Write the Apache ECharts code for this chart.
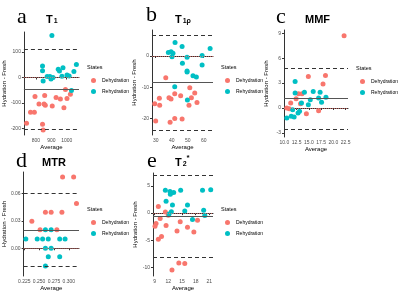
<!DOCTYPE html>
<html>
<head>
<meta charset="utf-8">
<script src="https://cdn.jsdelivr.net/npm/echarts@6/dist/echarts.min.js"></script>
<style>
  html, body { margin: 0; padding: 0; background: #fff; }
  #chart { width: 400px; height: 292px; }
</style>
</head>
<body>
<div id="chart"></div>
<script>
  // T1
  const t1Dehyd = [[739, -179], [765, -136], [790, -136], [794, -74], [820, -104], [843, -183], [847, -205], [853, -104], [857, -70], [861, -109], [906, -112], [931, -78], [959, -84], [982, -118], [992, -47], [1002, -82], [1024, -66]]
  const t1Rehyd = [[904, 164], [843, 45], [843, 26], [847, -14], [873, 4], [891, 4], [898, -6], [911, 0], [945, 32], [953, 25], [976, 38], [969, 5], [1002, 10], [1016, 6], [1031, -51], [1047, 23], [1063, 51]]
  const t1Limits = [112, -45, -201] // upper, mean, lower
  const t1XTicks = [800, 900, 1000]
  const t1YTicks = [100, 0, -100, -200]

  // T1rho
  const t1pDehyd = [[36.3, -6.9], [29.4, -15.2], [32.3, -13.5], [32.5, -15.7], [30.0, -20.7], [38.3, -13.3], [39.6, -13.7], [41.9, -12.0], [39.0, -21.1], [41.9, -19.9], [45.6, -12.7], [46.5, -20.1], [51.3, -10.1], [52.3, -13.3], [50.8, -15.7], [54.4, -11.8], [55.8, -14.8]]
  const t1pRehyd = [[42.1, 4.3], [37.9, 1.1], [39.6, 1.4], [40.8, 0.9], [40.2, -0.2], [46.5, 3.0], [49.6, -0.4], [46.7, -2.3], [49.6, -4.8], [49.6, -5.1], [53.3, -6.3], [55.4, -6.7], [59.0, 0.2], [59.0, -2.9], [64.0, 2.4], [41.9, -9.8], [49.8, -14.0]]
  const t1pLimits = [6.7, -8.3, -23.6]
  const t1pXTicks = [30, 40, 50, 60]
  const t1pYTicks = [0, -10, -20]

  // MMF
  const mmfDehyd = [[22.2, 8.7], [10.5, 0], [11.0, -0.1], [11.3, 0.6], [12.4, 1.1], [12.9, 1.7], [13.6, 1.7], [13.3, 0.5], [14.9, 3.8], [14.5, -0.7], [17.0, -0.35], [17.9, 2.9], [18.4, 3.9]]
  const mmfRehyd = [[10.5, -1.2], [11.4, -1.0], [11.7, -0.2], [12.0, -1.1], [12.2, 3.2], [12.2, 1.8], [12.8, -0.6], [13.1, -0.4], [13.5, 0.6], [14.1, 1.9], [14.9, 0.4], [15.3, 1.0], [15.9, 2.0], [17.0, 1.2], [17.3, 1.9], [17.6, 0.7], [18.5, 1.3]]
  const mmfLimits = [4.8, 1.12, -2.6]
  const mmfXTicks = [10, 12.5, 15, 17.5, 20, 22.5]
  const mmfYTicks = [9, 6, 3, 0, -3]

  // MTR
  const mtrDehyd = [[0.2894, 0.078], [0.308, 0.078], [0.3128, 0.049], [0.2378, 0.0296], [0.2606, 0.0394], [0.2702, 0.0394], [0.2883, 0.0394], [0.2516, 0.0202], [0.2798, 0.0202]]
  const mtrRehyd = [[0.2277, 0.0101], [0.2468, 0.0101], [0.2559, 0.0101], [0.2654, 0.0101], [0.2846, 0.0101], [0.2936, 0.0101], [0.2606, 0.0202], [0.2702, 0.0202], [0.2606, 0], [0.2702, 0], [0.2654, -0.0094], [0.2846, -0.0094], [0.2606, -0.0195]]
  const mtrLimits = [0.0607, 0.0192, -0.0239]
  const mtrXTicks = [0.225, 0.25, 0.275, 0.3]
  const mtrYTicks = [0.06, 0.03, 0]

  // T2*
  const t2Dehyd = [[9.8, 1.2], [11.34, 0.2], [12.0, -0.4], [10.2, -1.0], [9.3, -1.9], [9.07, -2.4], [11.5, -2.3], [14.6, -1.6], [16.2, -2.6], [13.9, -3.3], [17.6, -3.5], [18.4, -1.3], [10.5, -4.3], [9.8, -4.8], [14.3, -9.2], [15.6, -9.3], [12.8, -10.5]]
  const t2Rehyd = [[11.34, 4.2], [12.36, 4.0], [12.44, 3.5], [13.17, 3.8], [14.7, 4.2], [11.5, 2.2], [12.9, 1.5], [16.2, 1.5], [12.66, 0.24], [12.15, -0.18], [15.6, 0.37], [17.3, -1.2], [19.5, 4.2], [19.75, 0.55], [20.0, -0.43], [21.3, 4.3]]
  const t2Limits = [6.95, -0.67, -8.17]
  const t2XTicks = [9, 12, 15, 18, 21]
  const t2YTicks = [5, 0, -5, -10]

  const RED = '#F8766D'
  const TEAL = '#00BFC4'
  const FONT = 'Liberation Sans'

  const panels = [
    { dehyd: t1Dehyd, rehyd: t1Rehyd, limits: t1Limits, xTicks: t1XTicks, yTicks: t1YTicks,
      xRange: [722, 1080], yRange: [-225, 178], xDec: 0, yDec: 0,
      grid: { left: 21, top: 32, width: 58, height: 103 },
      letter: 'a', letterPos: [17, 6], title: '{m|T}{s|1}', titlePos: [46, 11], legendPos: [87, 64] },
    { dehyd: t1pDehyd, rehyd: t1pRehyd, limits: t1pLimits, xTicks: t1pXTicks, yTicks: t1pYTicks,
      xRange: [27.7, 65.8], yRange: [-25.2, 8.3], xDec: 0, yDec: 0,
      grid: { left: 152, top: 30, width: 61, height: 105 },
      letter: 'b', letterPos: [146, 4], title: '{m|T}{s|1\u03c1}', titlePos: [175, 11], legendPos: [221, 64] },
    { dehyd: mmfDehyd, rehyd: mmfRehyd, limits: mmfLimits, xTicks: mmfXTicks, yTicks: mmfYTicks,
      xRange: [9.93, 23.0], yRange: [-3.5, 9.4], xDec: 1, yDec: 0,
      grid: { left: 284, top: 30, width: 64, height: 107 },
      letter: 'c', letterPos: [276, 6], title: '{m|MMF}', titlePos: [305, 11], legendPos: [356, 65] },
    { dehyd: mtrDehyd, rehyd: mtrRehyd, limits: mtrLimits, xTicks: mtrXTicks, yTicks: mtrYTicks,
      xRange: [0.224, 0.317], yRange: [-0.0304, 0.0835], xDec: 3, yDec: 2,
      grid: { left: 21, top: 172, width: 58, height: 105 },
      letter: 'd', letterPos: [16, 150], title: '{m|MTR}', titlePos: [42, 154], legendPos: [87, 206] },
    { dehyd: t2Dehyd, rehyd: t2Rehyd, limits: t2Limits, xTicks: t2XTicks, yTicks: t2YTicks,
      xRange: [8.63, 21.8], yRange: [-11.6, 7.4], xDec: 0, yDec: 0,
      grid: { left: 153, top: 173, width: 60, height: 104 },
      letter: 'e', letterPos: [147, 150], title: '{m|T}{s|2}{p|*}', titlePos: [175, 154], legendPos: [221, 206] }
  ]

  const grids = []
  const xAxes = []
  const yAxes = []
  const series = []
  const titles = []
  const legends = []

  panels.forEach((p, i) => {
    grids.push(Object.assign({ containLabel: false }, p.grid))
    xAxes.push({
      type: 'value', gridIndex: i, min: p.xRange[0], max: p.xRange[1],
      name: 'Average', nameLocation: 'middle', nameGap: 9,
      nameTextStyle: { fontFamily: FONT, fontSize: 6, color: '#000' },
      axisLine: { lineStyle: { color: '#333', width: 1 } },
      axisTick: { show: true, length: 2, customValues: p.xTicks, lineStyle: { color: '#333' } },
      axisLabel: { customValues: p.xTicks, fontFamily: FONT, fontSize: 5, color: '#4d4d4d', margin: 3,
        formatter: v => v.toFixed(p.xDec) },
      splitLine: { show: false }
    })
    yAxes.push({
      type: 'value', gridIndex: i, min: p.yRange[0], max: p.yRange[1],
      name: 'Hydration - Fresh', nameLocation: 'middle', nameGap: 15,
      nameTextStyle: { fontFamily: FONT, fontSize: 6, color: '#000' },
      axisLine: { show: true, lineStyle: { color: '#333', width: 1 } },
      axisTick: { show: true, length: 2, customValues: p.yTicks, lineStyle: { color: '#333' } },
      axisLabel: { customValues: p.yTicks, fontFamily: FONT, fontSize: 5, color: '#4d4d4d', margin: 3,
        formatter: v => v.toFixed(p.yDec) },
      splitLine: { show: false }
    })
    series.push({
      name: 'Dehydration', type: 'scatter', xAxisIndex: i, yAxisIndex: i,
      data: p.dehyd, symbolSize: 5, itemStyle: { color: RED, opacity: 1 },
      markLine: {
        silent: true, symbol: ['none', 'none'], label: { show: false }, animation: false,
        data: [
          { yAxis: 0, lineStyle: { color: RED, type: 'dotted', width: 1, opacity: 0.7 } },
          { yAxis: p.limits[0], lineStyle: { color: '#333', type: [4, 3], width: 1 } },
          { yAxis: p.limits[1], lineStyle: { color: '#555', type: 'solid', width: 1.2 } },
          { yAxis: p.limits[2], lineStyle: { color: '#333', type: [4, 3], width: 1 } }
        ]
      }
    })
    series.push({
      name: 'Rehydration', type: 'scatter', xAxisIndex: i, yAxisIndex: i,
      data: p.rehyd, symbolSize: 5, itemStyle: { color: TEAL, opacity: 1 }
    })
    titles.push({
      text: p.letter, left: p.letterPos[0], top: p.letterPos[1], padding: 0,
      textStyle: { fontFamily: 'Liberation Serif', fontSize: 22, fontWeight: 'normal', color: '#000' }
    })
    titles.push({
      text: p.title, left: p.titlePos[0], top: p.titlePos[1], padding: 0,
      textStyle: {
        rich: {
          m: { fontFamily: FONT, fontSize: 11, color: '#000', lineHeight: 14, verticalAlign: 'bottom' },
          s: { fontFamily: FONT, fontSize: 7, color: '#000', lineHeight: 14, verticalAlign: 'bottom', padding: [0, 0, 0, 1] },
          p: { fontFamily: FONT, fontSize: 8, color: '#000', lineHeight: 14, verticalAlign: 'top' }
        }
      }
    })
    titles.push({
      text: 'States', left: p.legendPos[0], top: p.legendPos[1], padding: 0,
      textStyle: { fontFamily: FONT, fontSize: 5.5, fontWeight: 'normal', color: '#000' }
    })
    legends.push({
      data: ['Dehydration', 'Rehydration'], orient: 'vertical',
      left: p.legendPos[0] + 4, top: p.legendPos[1] + 14, padding: 0,
      itemWidth: 5, itemHeight: 5, itemGap: 6, icon: 'circle',
      textStyle: { fontFamily: FONT, fontSize: 5, color: '#000', padding: [0, 0, 0, 1] }
    })
  })

  const chart = echarts.init(document.getElementById('chart'))
  chart.setOption({
    animation: false,
    title: titles,
    legend: legends,
    grid: grids,
    xAxis: xAxes,
    yAxis: yAxes,
    series: series
  })
</script>
</body>
</html>
